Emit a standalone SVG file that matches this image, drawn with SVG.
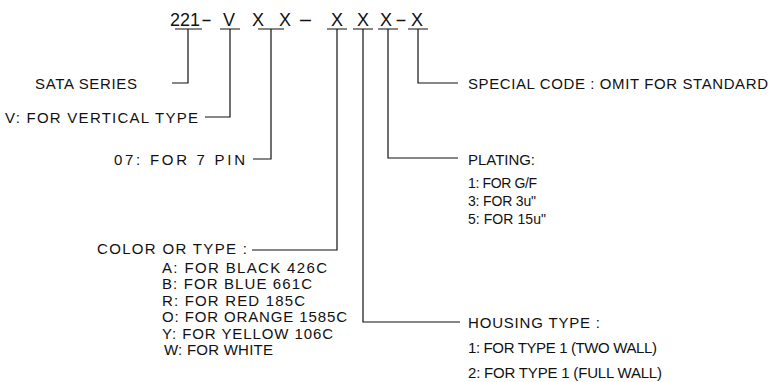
<svg xmlns="http://www.w3.org/2000/svg" width="778" height="382" viewBox="0 0 778 382">
<style>
text { font-family: "Liberation Sans", Arial, sans-serif; fill: #111; font-size: 15px; }
.sm { font-size: 14px; }
.hd { font-size: 18px; text-anchor: middle; }
.dash { font-size: 18px; }
.ln { fill: none; stroke: #111; stroke-width: 1.2; }
</style>
<rect width="778" height="382" fill="#fff"/>
<g id="header">
<text class="hd" y="26"><tspan x="185">221</tspan><tspan x="229">V</tspan><tspan x="258">X</tspan><tspan x="285">X</tspan><tspan x="337">X</tspan><tspan x="363">X</tspan><tspan x="386">X</tspan><tspan x="417">X</tspan></text>
<text class="dash" x="201" y="26" textLength="11" lengthAdjust="spacingAndGlyphs">-</text>
<text class="dash" x="298" y="26" textLength="15" lengthAdjust="spacingAndGlyphs">-</text>
<text class="dash" x="395" y="26" textLength="12" lengthAdjust="spacingAndGlyphs">-</text>
<path class="ln" d="M175 29H202M220 29H240M258 29H284M327 29H347M353 29H373M378 29H398M408 29H428"/>
</g>
<g id="connectors">
<path class="ln" d="M188 29V83H172"/>
<path class="ln" d="M230 29V117H205"/>
<path class="ln" d="M271 29V159H253"/>
<path class="ln" d="M337 29V250H252"/>
<path class="ln" d="M363 29V322H460"/>
<path class="ln" d="M388 29V158H458"/>
<path class="ln" d="M418 29V83H458"/>
</g>
<g id="sata-series"><text x="35" y="88.5" textLength="102" lengthAdjust="spacing">SATA SERIES</text></g>
<g id="vertical-type"><text x="5" y="122.5" textLength="193" lengthAdjust="spacing">V: FOR VERTICAL TYPE</text></g>
<g id="pin"><text x="114" y="164.5" textLength="131" lengthAdjust="spacing">07: FOR 7 PIN</text></g>
<g id="special-code"><text x="468" y="88.5" textLength="300" lengthAdjust="spacing">SPECIAL CODE : OMIT FOR STANDARD</text></g>
<g id="plating">
<text x="468" y="164.5" textLength="67" lengthAdjust="spacing">PLATING:</text>
<text class="sm" x="468" y="188" textLength="69" lengthAdjust="spacing">1: FOR G/F</text>
<text class="sm" x="468" y="206" textLength="68" lengthAdjust="spacing">3: FOR 3u"</text>
<text class="sm" x="468" y="224" textLength="78" lengthAdjust="spacing">5: FOR 15u"</text>
</g>
<g id="color-type">
<text x="97" y="253.5" textLength="150" lengthAdjust="spacing">COLOR OR TYPE :</text>
<text x="162" y="272.5" textLength="165" lengthAdjust="spacing">A: FOR BLACK 426C</text>
<text x="162" y="289" textLength="150" lengthAdjust="spacing">B: FOR BLUE 661C</text>
<text x="162" y="305.5" textLength="143" lengthAdjust="spacing">R: FOR RED 185C</text>
<text x="162" y="322" textLength="185" lengthAdjust="spacing">O: FOR ORANGE 1585C</text>
<text x="162" y="338.5" textLength="171" lengthAdjust="spacing">Y: FOR YELLOW 106C</text>
<text x="164" y="355" textLength="109" lengthAdjust="spacing">W: FOR WHITE</text>
</g>
<g id="housing-type">
<text x="468" y="327.5" textLength="132" lengthAdjust="spacing">HOUSING TYPE :</text>
<text x="468" y="352.5" textLength="189" lengthAdjust="spacing">1: FOR TYPE 1 (TWO WALL)</text>
<text x="468" y="377.5" textLength="194" lengthAdjust="spacing">2: FOR TYPE 1 (FULL WALL)</text>
</g>
</svg>
